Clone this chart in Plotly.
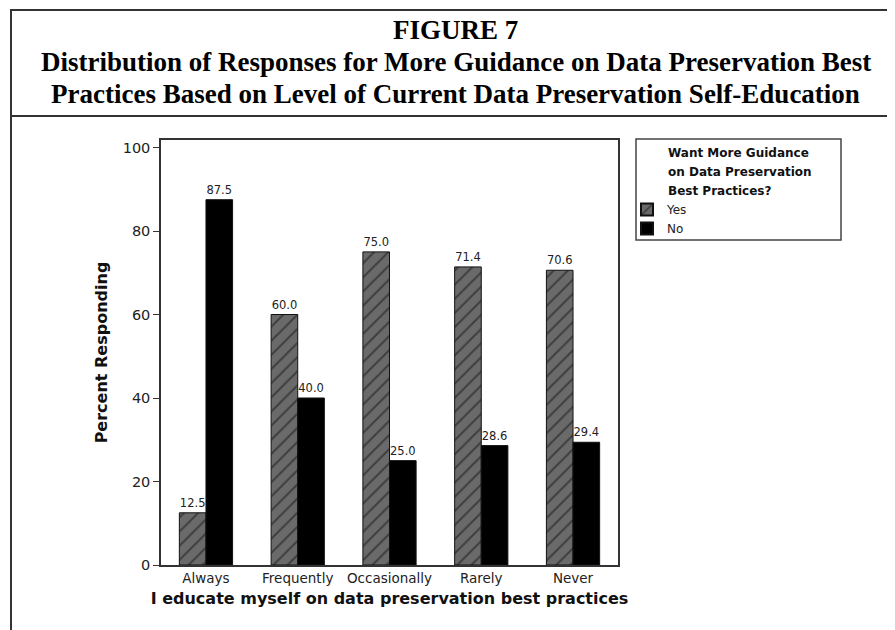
"""
Figure 7: guidance on data preservation best practices by self-education level.
"""
import plotly.graph_objects as go

categories = ["Always", "Frequently", "Occasionally", "Rarely", "Never"]
yes_values = [12.5, 60.0, 75.0, 71.4, 70.6]
no_values = [87.5, 40.0, 25.0, 28.6, 29.4]
y_ticks = [0, 20, 40, 60, 80, 100]

title_lines = [
    "FIGURE 7",
    "Distribution of Responses for More Guidance on Data Preservation Best",
    "Practices Based on Level of Current Data Preservation Self-Education",
]
legend_title_lines = ["Want More Guidance", "on Data Preservation", "Best Practices?"]

W, H = 895, 630
# plot area in pixels
L, R, T, B = 153, 610, 132, 557


def px_x(x):
    return (x - L) / (R - L)


def px_y(y):
    return (B - y) / (B - T)


fig = go.Figure()

fig.add_trace(go.Bar(
    x=categories,
    y=yes_values,
    name="Yes",
    marker=dict(
        color="#6a6a6a",
        line=dict(color="#111111", width=1),
        pattern=dict(shape="/", fgcolor="#111111", bgcolor="#6a6a6a", size=10, solidity=0.2),
    ),
    texttemplate="%{y:.1f}",
    textposition="outside",
    textfont=dict(family="DejaVu Sans", size=11.5, color="#222222"),
    cliponaxis=False,
))
fig.add_trace(go.Bar(
    x=categories,
    y=no_values,
    name="No",
    marker=dict(color="#000000", line=dict(color="#111111", width=1)),
    texttemplate="%{y:.1f}",
    textposition="outside",
    textfont=dict(family="DejaVu Sans", size=11.5, color="#222222"),
    cliponaxis=False,
))

# title lines
for txt, ypx in zip(title_lines, [22, 54, 86]):
    fig.add_annotation(
        text=f"<b>{txt}</b>", x=px_x(W / 2), y=px_y(ypx),
        xref="paper", yref="paper", showarrow=False,
        xanchor="center", yanchor="middle",
        font=dict(family="Liberation Serif", size=27, color="#000000"),
    )

# legend title, drawn as separate lines
for txt, ypx in zip(legend_title_lines, [145, 164, 183]):
    fig.add_annotation(
        text=f"<b>{txt}</b>", x=px_x(658), y=px_y(ypx),
        xref="paper", yref="paper", showarrow=False,
        xanchor="left", yanchor="middle",
        font=dict(family="DejaVu Sans", size=12, color="#111111"),
    )

# frame lines around the figure
border = dict(color="#333333", width=2)
fig.add_shape(type="rect", xref="paper", yref="paper",
              x0=px_x(3), x1=px_x(893), y0=px_y(108), y1=px_y(2), line=border)
fig.add_shape(type="line", xref="paper", yref="paper",
              x0=px_x(3), x1=px_x(3), y0=px_y(108), y1=px_y(632), line=border)
# legend box
fig.add_shape(type="rect", xref="paper", yref="paper",
              x0=px_x(628), x1=px_x(833), y0=px_y(232), y1=px_y(131),
              line=dict(color="#444444", width=1.5))

fig.update_layout(
    width=W,
    height=H,
    margin=dict(l=L, r=W - R, t=T, b=H - B, pad=0),
    paper_bgcolor="white",
    plot_bgcolor="white",
    barmode="group",
    bargap=0.42,
    bargroupgap=0,
    showlegend=True,
    legend=dict(
        x=px_x(619), y=px_y(187), xanchor="left", yanchor="top",
        borderwidth=0, bgcolor="rgba(0,0,0,0)",
        font=dict(family="DejaVu Sans", size=12, color="#222222"),
        tracegroupgap=0, itemsizing="constant",
    ),
    font=dict(family="DejaVu Sans", color="#222222"),
)

fig.update_xaxes(
    range=[-0.49, 4.49],
    showline=True, linecolor="#333333", linewidth=1.5, mirror=True,
    ticks="", tickfont=dict(size=13.5, color="#222222"),
    title=dict(text="<b>I educate myself on data preservation best practices</b>",
               font=dict(size=16, color="#111111"), standoff=8),
)
fig.update_yaxes(
    range=[0, 101.8],
    tickvals=y_ticks,
    showline=True, linecolor="#333333", linewidth=1.5, mirror=True,
    ticks="outside", ticklen=6, tickcolor="#333333",
    showgrid=False, zeroline=False,
    tickfont=dict(size=14.5, color="#222222"),
    title=dict(text="<b>Percent Responding</b>", font=dict(size=16, color="#111111"), standoff=11),
)

fig.write_html("out.html")
